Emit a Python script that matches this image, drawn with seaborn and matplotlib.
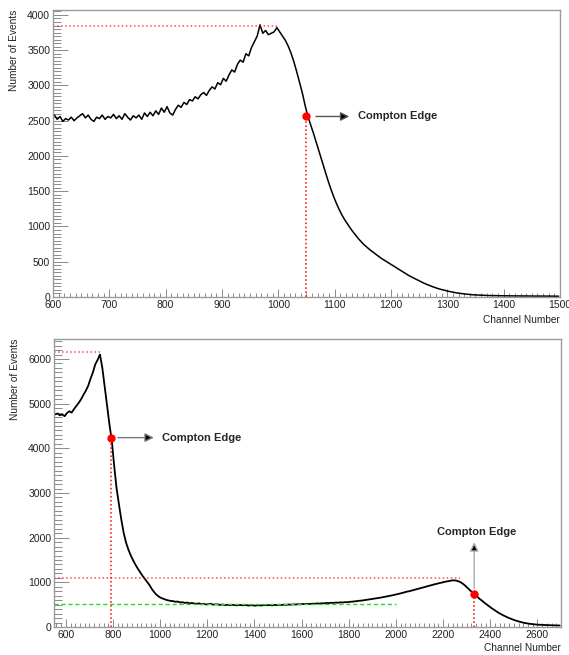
# Compton edge spectra, two ROOT-style histograms

import numpy as np
import pandas as pd
import matplotlib
matplotlib.use('Agg')
import matplotlib.pyplot as plt
import seaborn as sns
from matplotlib.ticker import MultipleLocator

# top spectrum: 5-channel bins from 600 to 1500
top_edges = np.arange(600, 1505, 5)
top_counts = [
    2580, 2520, 2560, 2490, 2530, 2510, 2550, 2500, 2540, 2570,
    2600, 2540, 2580, 2520, 2490, 2550, 2530, 2580, 2520, 2560,
    2540, 2590, 2530, 2570, 2520, 2600, 2550, 2510, 2570, 2540,
    2580, 2520, 2610, 2560, 2620, 2570, 2640, 2590, 2680, 2620,
    2700, 2610, 2580, 2660, 2720, 2690, 2760, 2730, 2800, 2780,
    2840, 2810, 2870, 2900, 2860, 2930, 2980, 2950, 3040, 3010,
    3100, 3060, 3150, 3220, 3190, 3300, 3360, 3330, 3450, 3420,
    3540, 3620, 3700, 3860, 3740, 3780, 3720, 3740, 3760, 3820,
    3760, 3700, 3640, 3560, 3460, 3340, 3200, 3050, 2900, 2720,
    2560, 2440, 2320, 2190, 2060, 1930, 1800, 1670, 1550, 1440,
    1340, 1250, 1170, 1100, 1040, 980, 925, 875, 825, 780,
    740, 705, 670, 640, 610, 580, 550, 525, 500, 475,
    450, 425, 400, 375, 350, 325, 300, 280, 260, 240,
    220, 200, 182, 166, 150, 136, 122, 110, 100, 90,
    80, 72, 64, 57, 51, 46, 41, 37, 33, 30,
    28, 26, 24, 22, 21, 20, 19, 18, 18, 17,
    17, 16, 16, 15, 15, 15, 14, 14, 14, 13,
    13, 13, 13, 12, 12, 12, 12, 11, 11, 11,
]

# bottom spectrum: 10-channel bins from 550 to 2700
bot_edges = np.arange(550, 2710, 10)
bot_counts = [
    4760, 4780, 4740, 4760, 4720, 4790, 4830, 4800, 4880, 4950,
    5020, 5100, 5200, 5290, 5400, 5560, 5700, 5880, 5980, 6100,
    5800, 5380, 4960, 4540, 4180, 3620, 3120, 2760, 2420, 2120,
    1900, 1740, 1610, 1500, 1400, 1310, 1230, 1150, 1080, 1010,
    940, 850, 780, 720, 680, 650, 630, 610, 595, 585,
    580, 565, 570, 550, 555, 540, 548, 530, 538, 525,
    520, 530, 510, 518, 505, 512, 520, 500, 510, 505,
    495, 505, 490, 500, 488, 498, 492, 485, 495, 490,
    488, 492, 480, 490, 485, 478, 490, 482, 488, 492,
    488, 492, 485, 495, 490, 498, 494, 500, 496, 504,
    500, 508, 504, 512, 508, 516, 512, 520, 515, 524,
    520, 528, 525, 532, 530, 538, 535, 542, 540, 548,
    545, 552, 550, 558, 556, 565, 568, 575, 580, 588,
    592, 600, 606, 615, 622, 630, 640, 648, 658, 668,
    678, 688, 700, 710, 722, 735, 748, 760, 775, 790,
    800, 815, 828, 842, 858, 872, 885, 900, 915, 930,
    945, 958, 970, 985, 995, 1010, 1020, 1030, 1040, 1045,
    1040, 1025, 1000, 965, 920, 870, 820, 770, 725, 680,
    630, 590, 545, 505, 465, 425, 390, 355, 320, 290,
    262, 236, 212, 190, 170, 150, 133, 118, 104, 92,
    82, 74, 67, 61, 56, 52, 49, 46, 44, 42,
    40, 38, 36, 35, 34,
]

# markers
top_peak = 3840
top_edge = (1050, 2560)
bot_peak = 6150
bot_edge1 = (792, 4240)
bot_edge2 = (2332, 740)
bot_peak2 = 1090
bot_flat = 515

sns.set_style('white')
plt.rcParams['font.family'] = ['Liberation Sans', 'DejaVu Sans']

fig = plt.figure(figsize=(5.69, 6.55), dpi=100)
ax1 = fig.add_axes([0.0931, 0.5466, 0.891, 0.4382])
ax2 = fig.add_axes([0.0949, 0.0427, 0.891, 0.4397])

frame = '#9a9a9a'
for ax in (ax1, ax2):
    for s in ax.spines.values():
        s.set_color(frame)
        s.set_linewidth(1)
    ax.tick_params(which='both', direction='in', color='#8a8a8a', width=0.7,
                   labelsize=7.5, labelcolor='#222222',
                   bottom=True, left=True, top=False, right=False)
    ax.tick_params(axis='x', which='major', length=5.8, pad=2)
    ax.tick_params(axis='x', which='minor', length=2.9)
    ax.tick_params(axis='y', which='major', length=10.8, pad=2)
    ax.tick_params(axis='y', which='minor', length=5.8)


def bin_frame(edges, counts):
    centers = (edges[:-1] + edges[1:]) / 2
    return pd.DataFrame({'channel': centers, 'events': counts})


# ---- top panel
sns.lineplot(data=bin_frame(top_edges, top_counts), x='channel', y='events',
             estimator=None, color='black', linewidth=1.1, ax=ax1)
ax1.set_xlim(600, 1500)
ax1.set_ylim(0, 4071)
ax1.xaxis.set_major_locator(MultipleLocator(100))
ax1.xaxis.set_minor_locator(MultipleLocator(10))
ax1.yaxis.set_major_locator(MultipleLocator(500))
ax1.yaxis.set_minor_locator(MultipleLocator(50))

ax1.plot([600, 1000], [top_peak, top_peak], color='red', ls=':', lw=1.1, alpha=0.7)
ax1.plot([top_edge[0], top_edge[0]], [0, top_edge[1]], color='red', ls=':', lw=1.1)
ax1.plot(*top_edge, 'o', color='red', ms=5)
ax1.annotate('', xy=(1131, top_edge[1]), xytext=(1062, top_edge[1]),
             arrowprops=dict(arrowstyle='-|>', ec='#555555', fc='black', lw=1, mutation_scale=13))
ax1.text(1141, top_edge[1], 'Compton Edge', fontsize=8, fontweight='bold', va='center')

ax1.set_xlabel('Channel Number', loc='right', fontsize=7.3, color='#222222', labelpad=4)
ax1.set_ylabel('Number of Events', loc='top', fontsize=7.3, color='#222222', labelpad=6)

# ---- bottom panel
sns.lineplot(data=bin_frame(bot_edges, bot_counts), x='channel', y='events',
             estimator=None, color='black', linewidth=1.3, ax=ax2)
ax2.set_xlim(550, 2700)
ax2.set_ylim(0, 6447)
ax2.xaxis.set_major_locator(MultipleLocator(200))
ax2.xaxis.set_minor_locator(MultipleLocator(20))
ax2.yaxis.set_major_locator(MultipleLocator(1000))
ax2.yaxis.set_minor_locator(MultipleLocator(100))

ax2.plot([550, 745], [bot_peak, bot_peak], color='red', ls=':', lw=1.1, alpha=0.7)
ax2.plot([550, 2272], [bot_peak2, bot_peak2], color='red', ls=':', lw=1.1, alpha=0.7)
ax2.plot([550, 2000], [bot_flat, bot_flat], color='#22dd22', ls=(0, (3, 2)), lw=1)
ax2.plot([bot_edge1[0], bot_edge1[0]], [0, bot_edge1[1]], color='red', ls=':', lw=1.1)
ax2.plot([bot_edge2[0], bot_edge2[0]], [0, bot_edge2[1]], color='red', ls=':', lw=1.1)
ax2.plot(*bot_edge1, 'o', color='red', ms=5)
ax2.plot(*bot_edge2, 'o', color='red', ms=5)
ax2.annotate('', xy=(985, bot_edge1[1]), xytext=(809, bot_edge1[1]),
             arrowprops=dict(arrowstyle='-|>', ec='#777777', fc='black', lw=1, mutation_scale=13))
ax2.text(1008, bot_edge1[1], 'Compton Edge', fontsize=8, fontweight='bold', va='center')
ax2.annotate('', xy=(bot_edge2[0], 1960), xytext=(bot_edge2[0], 800),
             arrowprops=dict(arrowstyle='-|>', ec='#aaaaaa', fc='black', lw=1, mutation_scale=13))
ax2.text(2344, 2120, 'Compton Edge', fontsize=8, fontweight='bold', ha='center', va='center')

ax2.set_xlabel('Channel Number', loc='right', fontsize=7.3, color='#222222', labelpad=2)
ax2.set_ylabel('Number of Events', loc='top', fontsize=7.3, color='#222222', labelpad=6)

fig.savefig('out.png', dpi=100)
